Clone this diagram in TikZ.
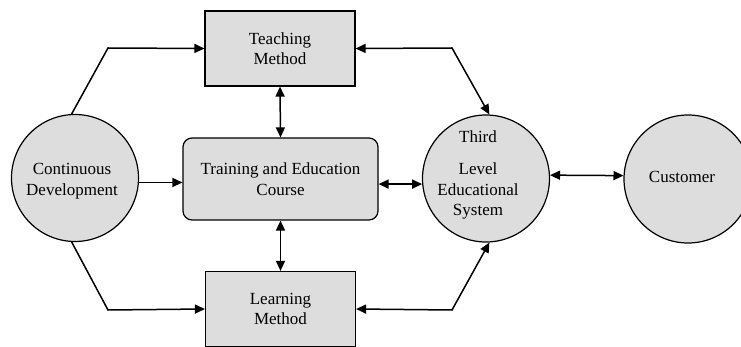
\documentclass[tikz,border=0pt]{standalone}
\usepackage{fontspec}
\setmainfont{Liberation Serif}
\usetikzlibrary{arrows.meta}
\begin{document}
\begin{tikzpicture}[x=1pt,y=-1pt,
  every node/.style={font=\fontsize{17}{20.5}\selectfont, align=center, inner sep=0pt},
  boxn/.style={draw, line width=1.2pt, fill=gray!27, minimum width=150pt, minimum height=75pt},
  roundbox/.style={draw, line width=1.2pt, fill=gray!27, rounded corners=9pt, minimum width=195pt, minimum height=82pt},
  circ/.style={draw, line width=1.2pt, fill=gray!27, circle, minimum size=127pt},
  conn/.style={line width=1.5pt, -{Triangle[length=10pt,width=9pt]}},
  bconn/.style={line width=1.5pt, {Triangle[length=10pt,width=9pt]}-{Triangle[length=10pt,width=9pt]}}]
\useasboundingbox (0,0) rectangle (741,347);
\clip (0,0) rectangle (741,347);
\node[boxn] (teach) at (280,48.5) {Teaching\\Method};
\node[roundbox] (train) at (280.5,179) {Training and Education\\Course};
\node[boxn] (learn) at (280.5,309) {Learning\\Method};
\node[circ] (cont) at (75,178) {};
\node (conttext) at (72,181) {Continuous\\Development};
\node[circ] (third) at (486,178.5) {};
\node (thirdtext) at (478,175) {Third\\[12pt]Level\\Educational\\System};
\node[circ, minimum size=128pt] (cust) at (688,179) {};
\node (custtext) at (682,177) {Customer};
\coordinate (b1) at (108,48);
\coordinate (b2) at (452,48);
\coordinate (b3) at (108,310);
\coordinate (b4) at (452,310);
\draw[conn] (cont.93) -- (b1) -- (teach.west);
\draw[conn] (cont.267) -- (b3) -- (learn.west);
\draw[bconn] (teach.east) -- (b2) -- (third.87);
\draw[bconn] (learn.east) -- (b4) -- (third.273);
\draw[conn] (cont.-4.5) -- (cont.-4.5 -| train.west);
\draw[bconn] (third.185) -- (third.185 -| train.east);
\draw[bconn] (third.3) -- (cust.177);
\draw[bconn] (teach.south) -- (train.north);
\draw[bconn] (train.south) -- (learn.north);
\end{tikzpicture}
\end{document}
